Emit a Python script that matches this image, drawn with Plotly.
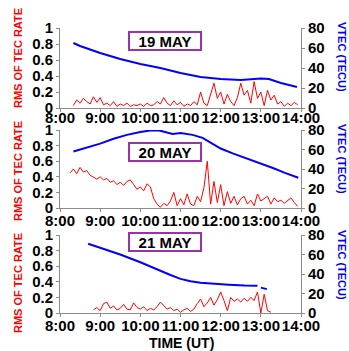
import numpy as np
import plotly.graph_objects as go


def hm(s):
    h, m = s.split(":")
    return int(h) + int(m) / 60


# ---------------- data ----------------
hour_ticks = [8, 9, 10, 11, 12, 13, 14]
hour_labels = ["8:00", "9:00", "10:00", "11:00", "12:00", "13:00", "14:00"]
rms_ticks = [0, 0.2, 0.4, 0.6, 0.8, 1]
vtec_ticks = [0, 20, 40, 60, 80]
days = ["19 MAY", "20 MAY", "21 MAY"]

# RMS of TEC rate, sampled every 5 minutes
rms_step_min = 5
rms_19_start = "8:20"
rms_19 = [0.03, 0.10, 0.06, 0.12, 0.08, 0.05, 0.14, 0.07,                    # 8:20-8:55
          0.13, 0.04, 0.06, 0.03, 0.08, 0.02, 0.05, 0.03, 0.06, 0.02, 0.04, 0.03,  # 9h
          0.05, 0.02, 0.06, 0.03, 0.04, 0.08, 0.05, 0.13, 0.06, 0.03, 0.09, 0.04,  # 10h
          0.07, 0.02, 0.05, 0.03, 0.08, 0.04, 0.20, 0.06, 0.03, 0.18, 0.31, 0.12,  # 11h
          0.20, 0.05, 0.17, 0.08, 0.03, 0.13, 0.31, 0.16, 0.22, 0.06, 0.33, 0.12,  # 12h
          0.20, 0.03, 0.22, 0.10, 0.16, 0.05, 0.08, 0.02, 0.06, 0.03, 0.07, 0.04]  # 13h

rms_20_start = "8:15"
rms_20 = [0.45, 0.50, 0.44, 0.52, 0.46, 0.48, 0.42, 0.40, 0.37,              # 8:15-8:55
          0.40, 0.36, 0.38, 0.33, 0.35, 0.30, 0.33, 0.29, 0.34, 0.36, 0.30, 0.24,  # 9h
          0.27, 0.22, 0.31, 0.27, 0.12, 0.05, 0.01, 0.06, 0.03, 0.09, 0.20, 0.03,  # 10h
          0.12, 0.04, 0.18, 0.05, 0.03, 0.15, 0.08, 0.26, 0.60, 0.05, 0.34, 0.07,  # 11h
          0.30, 0.03, 0.21, 0.06, 0.15, 0.04, 0.12, 0.15, 0.05, 0.10, 0.03, 0.18,  # 12h
          0.09, 0.12, 0.15, 0.05, 0.13, 0.08, 0.10, 0.06, 0.10, 0.13, 0.07, 0.02]  # 13h

rms_21_start = "8:50"
rms_21 = [0.04, 0.07,                                                        # 8:50-8:55
          0.03, 0.12, 0.14, 0.06, 0.09, 0.04, 0.06, 0.11, 0.05, 0.04, 0.13, 0.07,  # 9h
          0.05, 0.08, 0.03, 0.06, 0.04, 0.08, 0.14, 0.10, 0.05, 0.07, 0.03, 0.05,  # 10h
          0.01, 0.04, 0.06, 0.02, 0.05, 0.12, 0.18, 0.08, 0.13, 0.20, 0.10, 0.17,  # 11h
          0.27, 0.16, 0.03, 0.20, 0.15, 0.18, 0.14, 0.19, 0.15, 0.20, 0.16, 0.27,  # 12h
          0.00, 0.24, 0.03, 0.01]                                            # 13:00-13:15

# VTEC (TECU)
vtec_19_t = ["8:20", "8:30", "9:00", "9:30", "10:00", "10:30", "11:00", "11:30",
             "12:00", "12:30", "13:00", "13:12", "13:30", "13:54"]
vtec_19 = [65, 62, 55, 49, 44, 40, 35, 31, 29, 28, 29.5, 29, 25, 21]

vtec_20_t = ["8:20", "8:36", "8:50", "9:00", "9:20", "9:40", "10:00", "10:15", "10:27",
             "10:36", "10:48", "11:00", "11:18", "11:33", "11:45", "12:00", "12:18",
             "12:39", "13:00", "13:18", "13:36", "13:56"]
vtec_20 = [58, 61, 64, 66, 71, 75, 78, 79.5, 79.8, 78, 76, 77, 75, 72, 67, 61, 56,
           51, 46, 41, 36, 31]

vtec_21_t = ["8:42", "9:00", "9:15", "9:30", "10:00", "10:30", "10:45", "11:00", "11:15",
             "11:30", "11:48", "12:12", "12:36", "12:55", "12:57", "13:00", "13:05", "13:09"]
vtec_21 = [71, 67, 64, 60, 52, 43, 39, 35, 32.5, 31, 30, 29, 28.2, 28, None, 26, 25, 24.5]


def grid(start, n):
    return hm(start) + np.arange(n) * rms_step_min / 60


panels = [
    (grid(rms_19_start, len(rms_19)), rms_19, [hm(t) for t in vtec_19_t], vtec_19),
    (grid(rms_20_start, len(rms_20)), rms_20, [hm(t) for t in vtec_20_t], vtec_20),
    (grid(rms_21_start, len(rms_21)), rms_21, [hm(t) for t in vtec_21_t], vtec_21),
]

# ---------------- layout ----------------
W, H = 349, 351
ML, MR = 60, 48
plot_w = W - ML - MR
panel_px = [(28, 108), (130, 208), (235, 313)]  # top / bottom of each panel
domains = [[(H - b) / H, (H - t) / H] for t, b in panel_px]
label_standoff = [-7, -4, -4]  # top panel's hour labels sit tighter to its axis

RED = "#ff0000"
BLUE = "#0000ff"
AXIS = "#8c8c8c"
FONT = "Liberation Sans"
tickfont = dict(family=FONT, size=15, color="black", weight="bold")


def px_x(x):
    return (x - ML) / plot_w


def px_y(y):
    return (H - y) / H


fig = go.Figure()
layout = dict(
    width=W, height=H, autosize=False,
    margin=dict(l=ML, r=MR, t=0, b=0, pad=0, autoexpand=False),
    paper_bgcolor="white", plot_bgcolor="white",
    showlegend=False,
)

annotations = []
for i, (rt, rv, vt, vv) in enumerate(panels):
    xa = "x" if i == 0 else f"x{i + 1}"
    yl = "y" if i == 0 else f"y{2 * i + 1}"
    yr = f"y{2 * i + 2}"
    fig.add_trace(go.Scatter(x=rt, y=rv, xaxis=xa, yaxis=yl, mode="lines",
                             line=dict(color=RED, width=1)))
    fig.add_trace(go.Scatter(x=vt, y=vv, xaxis=xa, yaxis=yr, mode="lines",
                             connectgaps=False, line=dict(color=BLUE, width=2)))

    xkey = "xaxis" if i == 0 else f"xaxis{i + 1}"
    ylkey = "yaxis" if i == 0 else f"yaxis{2 * i + 1}"
    yrkey = f"yaxis{2 * i + 2}"
    layout[xkey] = dict(
        domain=[0, 1], anchor=yl, range=[8, 14], tickvals=hour_ticks,
        ticktext=hour_labels, tickangle=0, showgrid=False, zeroline=False,
        showline=True, linecolor=AXIS, linewidth=1, ticks="outside", ticklen=3,
        tickcolor=AXIS, tickfont=tickfont, automargin=False,
        ticklabelstandoff=label_standoff[i],
    )
    layout[ylkey] = dict(
        domain=domains[i], anchor=xa, range=[0, 1], tickvals=rms_ticks,
        showgrid=False, zeroline=False, showline=True, linecolor=AXIS,
        ticks="outside", ticklen=3, tickcolor=AXIS, tickfont=tickfont,
        automargin=False,
    )
    layout[yrkey] = dict(
        overlaying=yl, side="right", anchor=xa, range=[0, 80], tickvals=vtec_ticks,
        showgrid=False, zeroline=False, showline=True, linecolor=AXIS,
        ticks="outside", ticklen=3, tickcolor=AXIS, tickfont=tickfont,
        automargin=False,
    )

    # date label box
    annotations.append(dict(
        text=days[i], xref="paper", yref="paper",
        x=px_x(165), y=px_y([41, 152, 242][i]), xanchor="center", yanchor="middle",
        showarrow=False,
        font=dict(family=FONT, size=15, color="black", weight="bold"),
        bgcolor="white", bordercolor="#9933aa", borderwidth=2, borderpad=1,
        width=68, height=14,
    ))
    # left axis title
    annotations.append(dict(
        text="RMS OF TEC RATE", xref="paper", yref="paper",
        x=px_x(18), y=px_y([58, 171, 283][i]), xanchor="center", yanchor="middle",
        showarrow=False, textangle=-90,
        font=dict(family=FONT, size=11, color=RED, weight="bold"),
    ))
    # right axis title
    annotations.append(dict(
        text="VTEC (TECU)", xref="paper", yref="paper",
        x=px_x(342), y=px_y([57, 159, 265][i]), xanchor="center", yanchor="middle",
        showarrow=False, textangle=90,
        font=dict(family=FONT, size=11, color=BLUE, weight="bold"),
    ))

annotations.append(dict(
    text="TIME (UT)", xref="paper", yref="paper",
    x=px_x(181), y=px_y(343), xanchor="center", yanchor="middle", showarrow=False,
    font=dict(family=FONT, size=14, color="black", weight="bold"),
))
layout["annotations"] = annotations
fig.update_layout(**layout)

fig.write_html("out.html")
